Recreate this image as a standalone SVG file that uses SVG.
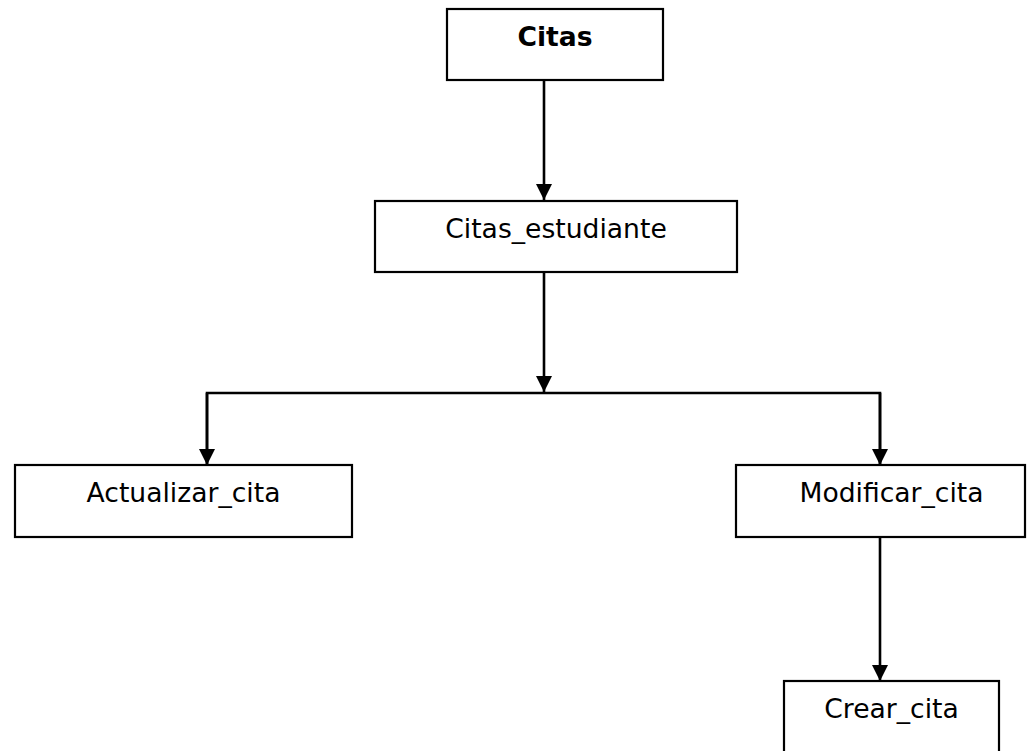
<svg xmlns="http://www.w3.org/2000/svg" width="1032" height="751" viewBox="0 0 1032 751">
  <style>
    .box { fill: #ffffff; stroke: #000000; stroke-width: 2.2; }
    .lbl { font-family: "DejaVu Sans", Verdana, sans-serif; font-size: 26.6px; fill: #000000; text-anchor: middle; }
    .bold { font-weight: bold; }
    .conn { fill: none; stroke: #000000; stroke-width: 2.6; }
  </style>
  <defs>
    <marker id="arrow" markerUnits="userSpaceOnUse" markerWidth="18" markerHeight="18" refX="16" refY="8" orient="auto">
      <path d="M0,0 L16,8 L0,16 Z" fill="#000000"/>
    </marker>
  </defs>
  <rect width="1032" height="751" fill="#ffffff"/>

  <g id="connectors">
    <line class="conn" x1="544" y1="81" x2="544" y2="200" marker-end="url(#arrow)"/>
    <line class="conn" x1="544" y1="272" x2="544" y2="392" marker-end="url(#arrow)"/>
    <polyline class="conn" points="207,465 207,393 880,393 880,465"/>
    <line class="conn" x1="207" y1="393" x2="207" y2="465" marker-end="url(#arrow)"/>
    <line class="conn" x1="880" y1="393" x2="880" y2="465" marker-end="url(#arrow)"/>
    <line class="conn" x1="880" y1="537" x2="880" y2="681" marker-end="url(#arrow)"/>
  </g>

  <g id="node-citas">
    <rect class="box" x="447" y="9" width="216" height="71"/>
    <text class="lbl bold" x="555" y="46">Citas</text>
  </g>
  <g id="node-citas-estudiante">
    <rect class="box" x="375" y="201" width="362" height="71"/>
    <text class="lbl" x="556" y="238">Citas_estudiante</text>
  </g>
  <g id="node-actualizar-cita">
    <rect class="box" x="15" y="465" width="337" height="72"/>
    <text class="lbl" x="183.5" y="502">Actualizar_cita</text>
  </g>
  <g id="node-modificar-cita">
    <rect class="box" x="736" y="465" width="289" height="72"/>
    <text class="lbl" x="891.5" y="502">Modificar_cita</text>
  </g>
  <g id="node-crear-cita">
    <rect class="box" x="784" y="681" width="215" height="80"/>
    <text class="lbl" x="891.5" y="718">Crear_cita</text>
  </g>
</svg>
